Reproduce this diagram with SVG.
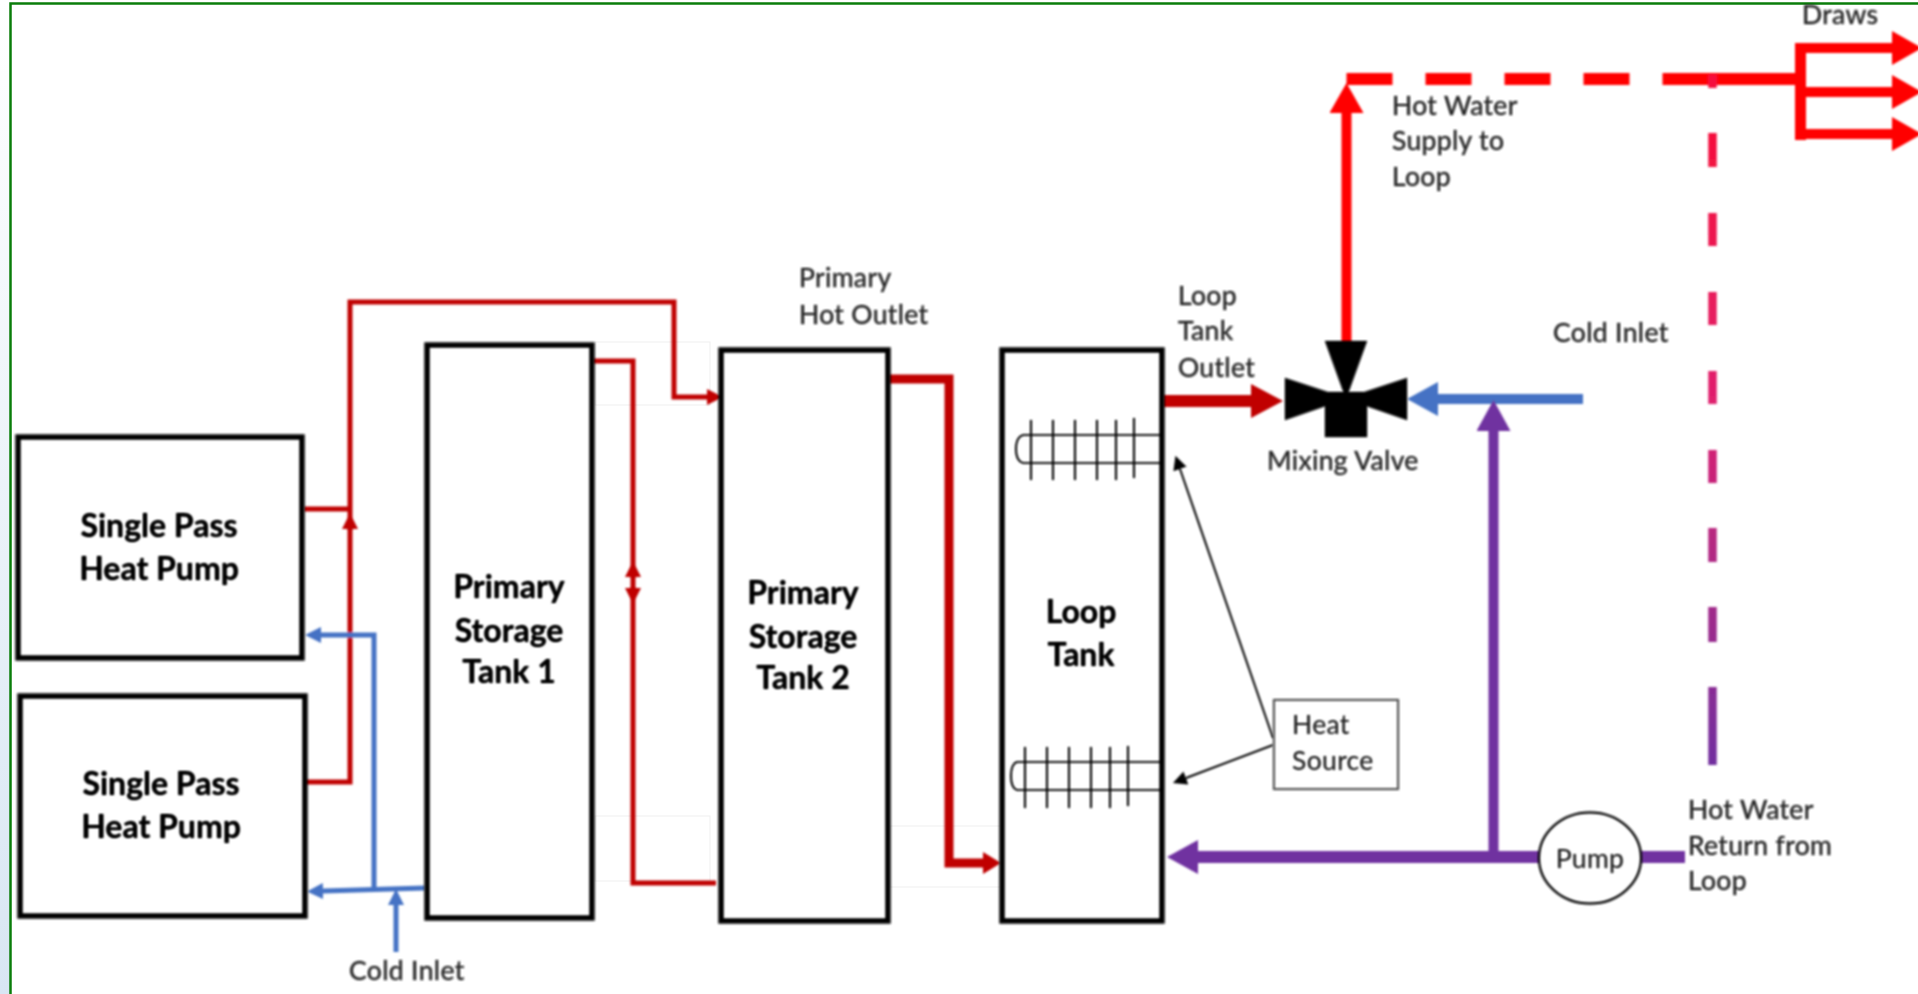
<svg xmlns="http://www.w3.org/2000/svg" width="1918" height="994" viewBox="0 0 1918 994">
<style>
.box{fill:#fff;stroke:#000;stroke-width:5}
.b{font:bold 32px Lato,"Liberation Sans",sans-serif;fill:#000;text-anchor:middle}
.l{font:26.500px Lato,"Liberation Sans",sans-serif;letter-spacing:.35px;fill:#333}
.red{fill:none;stroke:#c00000;stroke-width:5}
.blue{fill:none;stroke:#4472c4;stroke-width:5}
.coil{fill:none;stroke:#000;stroke-width:1.700}
.ghost{fill:none;stroke:#efefef;stroke-width:1}
.n{filter:url(#ink)}
</style>
<defs>
<linearGradient id="edge" x1="0" y1="0" x2="0" y2="1"><stop offset="0" stop-color="#fff"/><stop offset="1" stop-color="#d8e6f3"/></linearGradient>
<linearGradient id="ret" gradientUnits="userSpaceOnUse" x1="0" y1="130" x2="0" y2="770"><stop offset="0" stop-color="#f5103c"/><stop offset="0.42" stop-color="#e0206e"/><stop offset="1" stop-color="#7030a0"/></linearGradient>
<filter id="soft" filterUnits="userSpaceOnUse" x="0" y="0" width="1918" height="994"><feGaussianBlur stdDeviation="0.8"/></filter>
<filter id="ink" filterUnits="userSpaceOnUse" x="0" y="0" width="1918" height="994" color-interpolation-filters="sRGB"><feGaussianBlur stdDeviation="0.8"/><feComponentTransfer><feFuncR type="gamma" exponent="1.3"/><feFuncG type="gamma" exponent="1.3"/><feFuncB type="gamma" exponent="1.3"/><feFuncA type="gamma" exponent="0.8"/></feComponentTransfer></filter>
<marker id="rs" markerUnits="userSpaceOnUse" markerWidth="16" markerHeight="16" refX="0" refY="8" orient="auto" viewBox="0 0 16 16"><path d="M0 0L16 8L0 16Z" fill="#c00000"/></marker>
<marker id="bs" markerUnits="userSpaceOnUse" markerWidth="16" markerHeight="16" refX="0" refY="8" orient="auto" viewBox="0 0 16 16"><path d="M0 0L16 8L0 16Z" fill="#4472c4"/></marker>
<marker id="rl" markerUnits="userSpaceOnUse" markerWidth="32" markerHeight="34" refX="0" refY="17" orient="auto" viewBox="0 0 32 34"><path d="M0 0L32 17L0 34Z" fill="#c00000"/></marker>
<marker id="rm" markerUnits="userSpaceOnUse" markerWidth="18" markerHeight="22" refX="0" refY="11" orient="auto" viewBox="0 0 18 22"><path d="M0 0L18 11L0 22Z" fill="#c00000"/></marker>
<marker id="bright" markerUnits="userSpaceOnUse" markerWidth="30" markerHeight="34" refX="0" refY="17" orient="auto" viewBox="0 0 30 34"><path d="M0 0L30 17L0 34Z" fill="#f00"/></marker>
<marker id="bl" markerUnits="userSpaceOnUse" markerWidth="31" markerHeight="34" refX="0" refY="17" orient="auto" viewBox="0 0 31 34"><path d="M0 0L31 17L0 34Z" fill="#4472c4"/></marker>
<marker id="pl" markerUnits="userSpaceOnUse" markerWidth="31" markerHeight="34" refX="0" refY="17" orient="auto" viewBox="0 0 31 34"><path d="M0 0L31 17L0 34Z" fill="#7030a0"/></marker>
<marker id="k" markerUnits="userSpaceOnUse" markerWidth="14" markerHeight="14" refX="0" refY="7" orient="auto" viewBox="0 0 14 14"><path d="M0 0L14 7L0 14Z" fill="#000"/></marker>
</defs>
<rect width="1918" height="994" fill="#fff"/>
<g id="frame">
<rect x="0" y="0" width="10" height="994" fill="url(#edge)"/>
<path d="M10.500 994V3.500H1918" fill="none" stroke="#0a7d0a" stroke-width="2.500"/>
<rect class="ghost" x="595" y="342" width="115" height="63"/>
<rect class="ghost" x="595" y="816" width="115" height="65"/>
<rect class="ghost" x="890" y="826" width="112" height="61"/>
</g>
<g id="connectors" filter="url(#soft)">
<path class="red" d="M304 509H350M305 782H350V528"/>
<path class="red" d="M350 528V302H674V397H707" marker-end="url(#rs)"/>
<path class="red" d="M350 530V529" marker-end="url(#rs)"/>
<path class="red" d="M593 361H633V883H716"/>
<path class="red" d="M633 578V577" marker-end="url(#rs)"/>
<path class="red" d="M633 587V588" marker-end="url(#rs)"/>
<path class="blue" d="M425 888L323 891" marker-end="url(#bs)"/>
<path class="blue" d="M374 888V635H321" marker-end="url(#bs)"/>
<path class="blue" d="M396 952V905" marker-end="url(#bs)"/>
<path fill="none" stroke="#c00000" stroke-width="9" d="M889 379H949V863H983" marker-end="url(#rm)"/>
<path fill="none" stroke="#c00000" stroke-width="12" d="M1163 401H1251" marker-end="url(#rl)"/>
<path fill="none" stroke="#f00" stroke-width="10" d="M1346.500 345V113" marker-end="url(#bright)"/>
<path fill="none" stroke="#f00" stroke-width="12" stroke-dasharray="46 33" d="M1346.500 79H1708"/>
<path fill="none" stroke="#f00" stroke-width="12" d="M1708 79H1800"/>
<path fill="none" stroke="#f00" stroke-width="11" d="M1800.500 43V140"/>
<path fill="none" stroke="#f00" stroke-width="10" d="M1795 48H1892" marker-end="url(#bright)"/>
<path fill="none" stroke="#f00" stroke-width="10" d="M1795 92H1892" marker-end="url(#bright)"/>
<path fill="none" stroke="#f00" stroke-width="10" d="M1795 134H1892" marker-end="url(#bright)"/>
<path fill="none" stroke="url(#ret)" stroke-width="8.500" d="M1712.500 75V88M1712.500 133V167M1712.500 213V246M1712.500 292V325M1712.500 371V404M1712.500 450V483M1712.500 528V562M1712.500 607V642M1712.500 687V765"/>
<path fill="none" stroke="#4472c4" stroke-width="10" d="M1583 399H1438" marker-end="url(#bl)"/>
<path fill="none" stroke="#7030a0" stroke-width="12" d="M1685 857H1198" marker-end="url(#pl)"/>
<path fill="none" stroke="#7030a0" stroke-width="10" d="M1493.500 857V431" marker-end="url(#pl)"/>
<path fill="none" stroke="#000" stroke-width="2" d="M1273 738L1180 469" marker-end="url(#k)"/>
<path fill="none" stroke="#000" stroke-width="2" d="M1273 745L1186 778" marker-end="url(#k)"/>
</g>
<g id="heat-pump-1" class="n"><rect class="box" x="18" y="437" width="284" height="221"/><text class="b" x="159" y="537">Single Pass</text><text class="b" x="159" y="580">Heat Pump</text></g>
<g id="heat-pump-2" class="n"><rect class="box" x="20" y="696" width="285" height="220"/><text class="b" x="161" y="795">Single Pass</text><text class="b" x="161" y="838">Heat Pump</text></g>
<g id="primary-storage-tank-1" class="n"><rect class="box" x="427" y="345" width="165" height="573"/><text class="b" x="509" y="598">Primary</text><text class="b" x="509" y="642">Storage</text><text class="b" x="509" y="683">Tank 1</text></g>
<g id="primary-storage-tank-2" class="n"><rect class="box" x="721" y="350" width="167" height="571"/><text class="b" x="803" y="604">Primary</text><text class="b" x="803" y="648">Storage</text><text class="b" x="803" y="689">Tank 2</text></g>
<g id="loop-tank" class="n"><rect class="box" x="1002" y="350" width="160" height="571"/><text class="b" x="1081" y="623">Loop</text><text class="b" x="1081" y="666">Tank</text>
<path class="coil" d="M1160 435H1023Q1016 437 1016 449Q1016 461 1023 463H1160"/>
<path class="coil" d="M1031 420V480M1053 420V480M1075 420V480M1097 420V480M1116 420V480M1134 418V478"/>
<path class="coil" d="M1160 762H1017Q1011 764 1011 776Q1011 788 1017 790H1160"/>
<path class="coil" d="M1025 747V808M1047 747V808M1069 747V808M1091 747V808M1110 747V808M1128 746V806"/>
</g>
<g id="mixing-valve" class="n"><path d="M1285 378L1346 398L1407 378V420L1346 399L1285 420Z" fill="#000"/><path d="M1325 341H1367L1346 399Z" fill="#000"/><path d="M1325 392H1367V437H1325Z" fill="#000"/><text class="l" x="1267" y="470">Mixing Valve</text></g>
<g id="heat-source" class="n"><rect x="1274" y="700" width="124" height="89" fill="#fff" stroke="#444" stroke-width="1.500"/><text class="l" x="1292" y="734">Heat</text><text class="l" x="1292" y="770">Source</text></g>
<g id="pump" class="n"><ellipse cx="1590" cy="858" rx="51" ry="45.500" fill="#fff" stroke="#111" stroke-width="2"/><text class="l" x="1590" y="868" text-anchor="middle">Pump</text></g>
<g id="labels" class="n">
<text class="l" x="799" y="287">Primary</text><text class="l" x="799" y="324">Hot Outlet</text>
<text class="l" x="1178" y="305">Loop</text><text class="l" x="1178" y="340">Tank</text><text class="l" x="1178" y="377">Outlet</text>
<text class="l" x="1392" y="115">Hot Water</text><text class="l" x="1392" y="150">Supply to</text><text class="l" x="1392" y="186">Loop</text>
<text class="l" x="1553" y="342">Cold Inlet</text>
<text class="l" x="1802" y="24">Draws</text>
<text class="l" x="1688" y="819">Hot Water</text><text class="l" x="1688" y="855">Return from</text><text class="l" x="1688" y="890">Loop</text>
<text class="l" x="349" y="980">Cold Inlet</text>
</g>
</svg>
